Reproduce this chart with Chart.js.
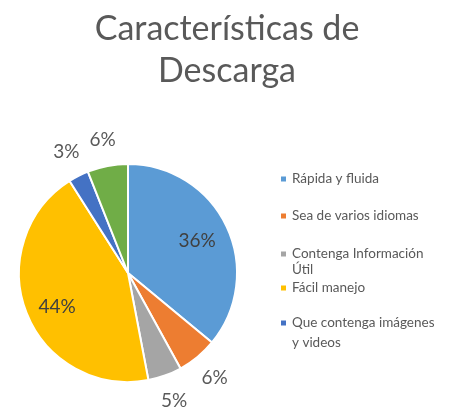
<!DOCTYPE html>
<html>
<head>
<meta charset="utf-8">
<script src="https://cdn.jsdelivr.net/npm/chart.js@4/dist/chart.umd.min.js"></script>
<style>
  html,body{margin:0;padding:0;background:#fff;}
  #wrap{width:456px;height:410px;}
</style>
</head>
<body>
<div id="wrap"><canvas id="pie" width="456" height="410"></canvas></div>
<script>
// data
const titleLines = ['Características de', 'Descarga'];
const categories = [
  ['Rápida y fluida'],
  ['Sea de varios idiomas'],
  ['Contenga Información', 'Útil'],
  ['Fácil manejo'],
  ['Que contenga imágenes', 'y videos'],
  ['']
];
const values = [36, 6, 5, 44, 3, 6];
const colors = ['#5B9BD5', '#ED7D31', '#A5A5A5', '#FFC000', '#4472C4', '#70AD47'];
const legendCount = 5; // the last slice has no visible legend entry

const FONT = 'Lato, "Open Sans", sans-serif';

// title, slice labels and legend drawn on the canvas
const decorPlugin = {
  id: 'decor',
  afterDraw(chart){
    const ctx = chart.ctx;
    ctx.save();
    // title
    ctx.fillStyle = '#595959';
    ctx.font = '34px ' + FONT;
    ctx.textAlign = 'center';
    ctx.textBaseline = 'alphabetic';
    titleLines.forEach((t,i)=> ctx.fillText(t, 227, 40 + i*42));

    // percentage labels
    const meta = chart.getDatasetMeta(0);
    const total = values.reduce((a,b)=>a+b,0);
    ctx.font = '19px ' + FONT;
    ctx.textBaseline = 'middle';
    meta.data.forEach((arc,i)=>{
      const p = arc.getProps(['x','y','startAngle','endAngle','outerRadius'], true);
      const mid = (p.startAngle + p.endAngle)/2;
      const pct = values[i]/total*100;
      const inside = pct >= 10;
      const r = inside ? p.outerRadius*0.7 : p.outerRadius + 27;
      ctx.fillStyle = inside ? '#404040' : '#595959';
      ctx.fillText(Math.round(pct) + '%', p.x + Math.cos(mid)*r, p.y + Math.sin(mid)*r + (inside && i===3 ? 6 : 0));
    });

    // legend
    const legendY = [179, 216, 254, 288, 323];
    ctx.font = '13.5px ' + FONT;
    ctx.textAlign = 'left';
    for(let i=0;i<legendCount;i++){
      ctx.fillStyle = colors[i];
      ctx.fillRect(281, legendY[i]-2.5, 5, 5);
      ctx.fillStyle = '#595959';
      categories[i].forEach((line,j)=> ctx.fillText(line, 292, legendY[i] + j*(i===4?20:16)));
    }
    ctx.restore();
  }
};

new Chart(document.getElementById('pie'), {
  type: 'pie',
  data: {
    labels: categories,
    datasets: [{
      data: values,
      backgroundColor: colors,
      borderColor: '#ffffff',
      borderWidth: 2
    }]
  },
  options: {
    responsive: false,
    animation: false,
    layout: {padding: {top: 163, left: 18, right: 218, bottom: 27}},
    plugins: {
      legend: {display: false},
      title: {display: false},
      tooltip: {enabled: false}
    }
  },
  plugins: [decorPlugin]
});
</script>
</body>
</html>
